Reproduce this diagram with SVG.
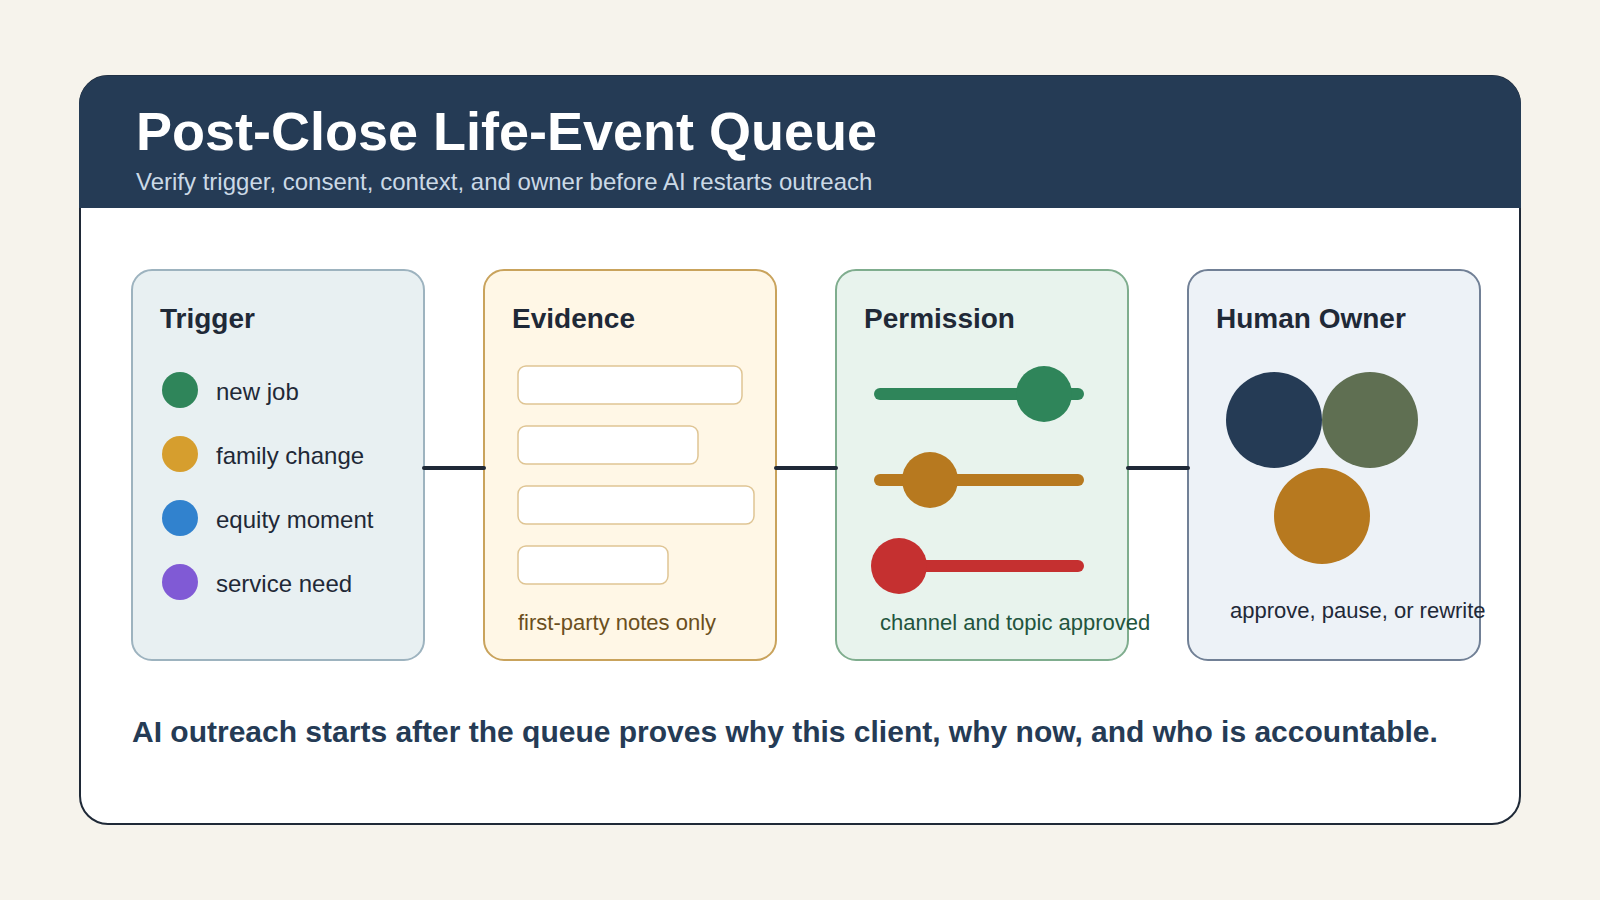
<svg xmlns="http://www.w3.org/2000/svg" width="1600" height="900" viewBox="0 0 1600 900">
<style>
text{font-family:"Liberation Sans",Arial,sans-serif}
.h{font-size:28px;font-weight:700;fill:#1f2937}
.t{font-size:24px;fill:#1f2937}
.c{font-size:22px}
.card{stroke-width:2}
.box{fill:#fff;stroke:#dfc594;stroke-width:1.5}
.link{stroke:#1f2937;stroke-width:4;fill:none;stroke-linecap:round}
</style>
<rect width="1600" height="900" fill="#f6f3ec"/>
<rect x="80" y="76" width="1440" height="748" rx="28" fill="#fff" stroke="#1f2937" stroke-width="2"/>
<path d="M79 208V104.500A29 29 0 0 1 108 75.500H1492A29 29 0 0 1 1521 104.500V208Z" fill="#253b55"/>
<text x="136" y="150" font-size="54" font-weight="700" fill="#fff">Post-Close Life-Event Queue</text>
<text x="136" y="190" font-size="24" fill="#cbd9e6">Verify trigger, consent, context, and owner before AI restarts outreach</text>
<g id="trigger">
<rect class="card" x="132" y="270" width="292" height="390" rx="20" fill="#e8f0f2" stroke="#9db3bf"/>
<text class="h" x="160" y="328">Trigger</text>
<circle cx="180" cy="390" r="18" fill="#2f855a"/><text class="t" x="216" y="400">new job</text>
<circle cx="180" cy="454" r="18" fill="#d69e2e"/><text class="t" x="216" y="464">family change</text>
<circle cx="180" cy="518" r="18" fill="#3182ce"/><text class="t" x="216" y="528">equity moment</text>
<circle cx="180" cy="582" r="18" fill="#805ad5"/><text class="t" x="216" y="592">service need</text>
</g>
<g id="evidence">
<rect class="card" x="484" y="270" width="292" height="390" rx="20" fill="#fff7e6" stroke="#c9a35c"/>
<text class="h" x="512" y="328">Evidence</text>
<rect class="box" x="518" y="366" width="224" height="38" rx="8"/>
<rect class="box" x="518" y="426" width="180" height="38" rx="8"/>
<rect class="box" x="518" y="486" width="236" height="38" rx="8"/>
<rect class="box" x="518" y="546" width="150" height="38" rx="8"/>
<text class="c" x="518" y="630" fill="#6b4f1d">first-party notes only</text>
</g>
<g id="permission">
<rect class="card" x="836" y="270" width="292" height="390" rx="20" fill="#e8f3ed" stroke="#7fad8e"/>
<text class="h" x="864" y="328">Permission</text>
<rect x="874" y="388" width="210" height="12" rx="6" fill="#2f855a"/><circle cx="1044" cy="394" r="28" fill="#2f855a"/>
<rect x="874" y="474" width="210" height="12" rx="6" fill="#b7791f"/><circle cx="930" cy="480" r="28" fill="#b7791f"/>
<rect x="874" y="560" width="210" height="12" rx="6" fill="#c53030"/><circle cx="899" cy="566" r="28" fill="#c53030"/>
<text class="c" x="880" y="630" fill="#22543d">channel and topic approved</text>
</g>
<g id="owner">
<rect class="card" x="1188" y="270" width="292" height="390" rx="20" fill="#edf2f7" stroke="#718096"/>
<text class="h" x="1216" y="328">Human Owner</text>
<circle cx="1274" cy="420" r="48" fill="#253b55"/>
<circle cx="1370" cy="420" r="48" fill="#5f6f52"/>
<circle cx="1322" cy="516" r="48" fill="#b7791f"/>
<text class="c" x="1230" y="618" fill="#1f2937">approve, pause, or rewrite</text>
</g>
<g id="connectors">
<path class="link" d="M424 468H484"/>
<path class="link" d="M776 468H836"/>
<path class="link" d="M1128 468H1188"/>
</g>
<text x="132" y="742" font-size="30" font-weight="700" fill="#253b55">AI outreach starts after the queue proves why this client, why now, and who is accountable.</text>
</svg>
